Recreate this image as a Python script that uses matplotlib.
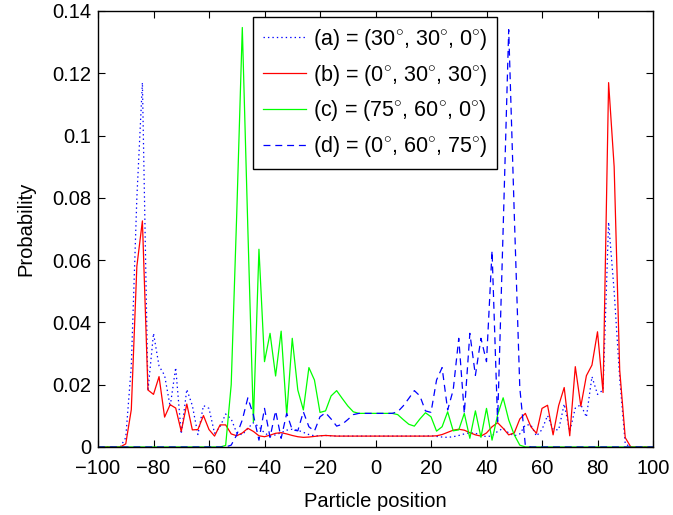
import matplotlib
matplotlib.use("Agg")
import matplotlib.pyplot as plt
from matplotlib.ticker import FuncFormatter

plt.rcParams['font.family'] = ['Liberation Sans', 'DejaVu Sans']
plt.rcParams['mathtext.fontset'] = 'custom'
plt.rcParams['mathtext.rm'] = 'Liberation Sans'
plt.rcParams['lines.scale_dashes'] = False

positions = list(range(-100, 101, 2))

prob_a = [0, 0, 0, 0, 0, 0.003, 0.026, 0.08, 0.117, 0.018,
          0.0365, 0.026, 0.023, 0.013, 0.0255, 0.0042, 0.0185, 0.0133, 0.004, 0.0133,
          0.0124, 0.0044, 0.0065, 0.0106, 0.009, 0.0045, 0.0039, 0.006, 0.0078, 0.0065,
          0.0045, 0.0035, 0.0039, 0.0046, 0.0054, 0.0057, 0.0054, 0.0047, 0.004, 0.0036,
          0.0036, 0.0037, 0.0036, 0.0035, 0.0035, 0.0035, 0.0035, 0.0035, 0.0035, 0.0035,
          0.0035, 0.0035, 0.0035, 0.0035, 0.0035, 0.0035, 0.0035, 0.0035, 0.0035, 0.0035,
          0.0036, 0.0034, 0.0032, 0.0031, 0.0033, 0.0037, 0.0042, 0.0046, 0.0044, 0.0038,
          0.0033, 0.0036, 0.005, 0.006, 0.0045, 0.0036, 0.0042, 0.0071, 0.0071, 0.0035,
          0.0056, 0.0101, 0.0056, 0.0055, 0.0138, 0.005, 0.0125, 0.0136, 0.0096, 0.0226,
          0.0169, 0.0183, 0.0722, 0.05, 0.022, 0.001, 0, 0, 0, 0, 0]

prob_b = [0, 0, 0, 0, 0, 0.001, 0.012, 0.058, 0.0726, 0.0183,
          0.0169, 0.0226, 0.0096, 0.0136, 0.0125, 0.005, 0.0138, 0.0055, 0.0056, 0.0101,
          0.0056, 0.0035, 0.0071, 0.0071, 0.0042, 0.0036, 0.0045, 0.006, 0.005, 0.0036,
          0.0033, 0.0038, 0.0044, 0.0046, 0.0042, 0.0037, 0.0033, 0.0031, 0.0032, 0.0034,
          0.0036, 0.0037, 0.0036, 0.0035, 0.0035, 0.0035, 0.0035, 0.0035, 0.0035, 0.0035,
          0.0035, 0.0035, 0.0035, 0.0035, 0.0035, 0.0035, 0.0035, 0.0035, 0.0035, 0.0035,
          0.0035, 0.0036, 0.004, 0.0047, 0.0054, 0.0057, 0.0054, 0.0046, 0.0039, 0.0035,
          0.0045, 0.0065, 0.0078, 0.006, 0.0039, 0.0045, 0.009, 0.0108, 0.0065, 0.0044,
          0.0124, 0.0134, 0.0039, 0.0133, 0.0191, 0.0036, 0.0258, 0.0131, 0.0229, 0.0263,
          0.037, 0.0175, 0.117, 0.09, 0.0247, 0.003, 0, 0, 0, 0, 0]

prob_c = [0, 0, 0, 0, 0, 0, 0, 0, 0, 0,
          0, 0, 0, 0, 0, 0, 0, 0, 0, 0,
          0, 0, 0, 0.0005, 0.020, 0.075, 0.1347, 0.07, 0.0081, 0.0635,
          0.0274, 0.0365, 0.0228, 0.0372, 0.0103, 0.0349, 0.0183, 0.0119, 0.0255, 0.0215,
          0.0111, 0.0116, 0.0164, 0.0181, 0.0156, 0.0132, 0.0113, 0.0108, 0.0108, 0.0108,
          0.0108, 0.0108, 0.0108, 0.0108, 0.0104, 0.0088, 0.0073, 0.0067, 0.009, 0.011,
          0.0097, 0.0051, 0.0065, 0.0113, 0.0052, 0.0055, 0.0108, 0.0028, 0.0116, 0.0031,
          0.0124, 0.0022, 0.0103, 0.0158, 0.0087, 0.0039, 0.0006, 0, 0, 0,
          0, 0, 0, 0, 0, 0, 0, 0, 0, 0,
          0, 0, 0, 0, 0, 0, 0, 0, 0, 0, 0]

prob_d = [0, 0, 0, 0, 0, 0, 0, 0, 0, 0,
          0, 0, 0, 0, 0, 0, 0, 0, 0, 0,
          0, 0, 0, 0, 0.0006, 0.0039, 0.0087, 0.0158, 0.0103, 0.0022,
          0.0124, 0.0031, 0.0116, 0.0028, 0.0108, 0.0055, 0.0052, 0.0113, 0.0065, 0.0051,
          0.0097, 0.011, 0.009, 0.0067, 0.0073, 0.0088, 0.0104, 0.0108, 0.0108, 0.0108,
          0.0108, 0.0108, 0.0108, 0.0108, 0.0113, 0.0132, 0.0156, 0.0181, 0.0164, 0.0116,
          0.0111, 0.0215, 0.0255, 0.0119, 0.0183, 0.0349, 0.0108, 0.0365, 0.023, 0.0349,
          0.0274, 0.063, 0.0081, 0.07, 0.134, 0.075, 0.019, 0.0005, 0, 0,
          0, 0, 0, 0, 0, 0, 0, 0, 0, 0,
          0, 0, 0, 0, 0, 0, 0, 0, 0, 0, 0]

labels = [r'(a) = (30$^{\circ}$, 30$^{\circ}$, 0$^{\circ}$)',
          r'(b) = (0$^{\circ}$, 30$^{\circ}$, 30$^{\circ}$)',
          r'(c) = (75$^{\circ}$, 60$^{\circ}$, 0$^{\circ}$)',
          r'(d) = (0$^{\circ}$, 60$^{\circ}$, 75$^{\circ}$)']

xticks = list(range(-100, 101, 20))
yticks = [0, 0.02, 0.04, 0.06, 0.08, 0.1, 0.12, 0.14]

fig = plt.figure(figsize=(6.73, 5.15), dpi=100)
ax = fig.add_axes([98 / 673, 1 - 447 / 515, 555 / 673, 436 / 515])

lw = 0.9
ax.plot(positions, prob_a, color=(0, 0, 1), lw=lw, linestyle=(0, (1, 2.2)), label=labels[0])
ax.plot(positions, prob_b, color=(1, 0, 0), lw=lw, label=labels[1])
ax.plot(positions, prob_c, color=(0, 1, 0), lw=lw, label=labels[2])
ax.plot(positions, prob_d, color=(0, 0, 1), lw=lw, linestyle=(0, (5, 3.5)), label=labels[3])

ax.set_xlim(-100, 100)
ax.set_ylim(0, 0.14)
ax.set_xticks(xticks)
ax.set_yticks(yticks)
ax.yaxis.set_major_formatter(FuncFormatter(lambda v, p: '%g' % v))
ax.tick_params(direction='in', length=5, width=0.8, top=True, right=True,
               labelsize=14.5)
ax.tick_params(axis='x', pad=9)
ax.tick_params(axis='y', pad=5)
for s in ax.spines.values():
    s.set_linewidth(1.0)

ax.set_xlabel('Particle position', fontsize=14.5, labelpad=10)
ax.set_ylabel('Probability', fontsize=14.5, labelpad=12)

leg = ax.legend(loc='upper left', bbox_to_anchor=(0.279, 0.9856), borderaxespad=0,
                fontsize=15.5, frameon=True, fancybox=False, framealpha=1,
                edgecolor='black', handlelength=2.0, handletextpad=0.35,
                labelspacing=0.5, borderpad=0.45)
leg.get_frame().set_linewidth(1.0)

fig.savefig('out.png', dpi=100)
